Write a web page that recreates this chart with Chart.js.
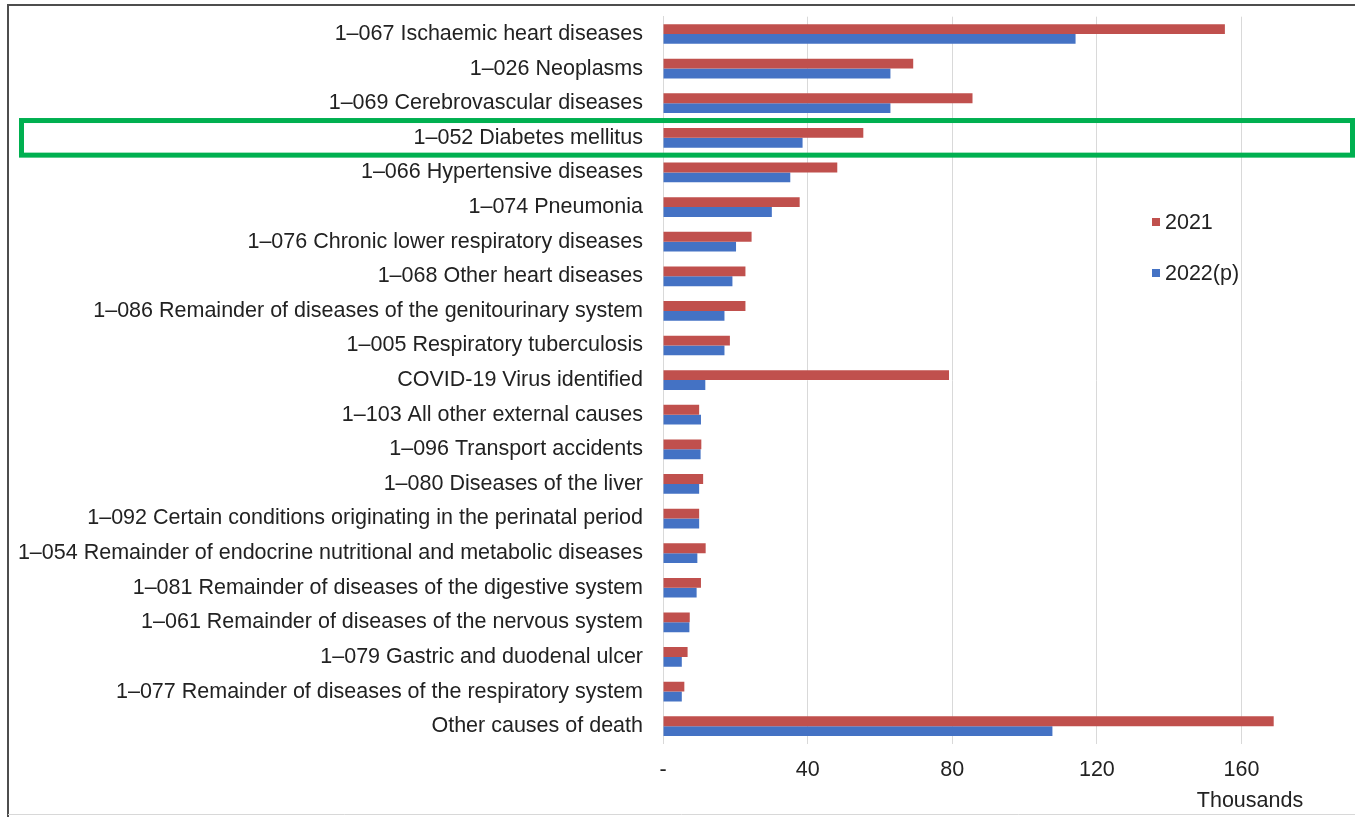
<!DOCTYPE html>
<html>
<head>
<meta charset="utf-8">
<script src="https://cdn.jsdelivr.net/npm/chart.js@4.4.1/dist/chart.umd.min.js"></script>
<style>
  html, body { margin: 0; padding: 0; background: #ffffff; }
  #wrap { width: 1355px; height: 817px; }
</style>
</head>
<body>
<div id="wrap"><canvas id="chart" width="1355" height="817"></canvas></div>
<script>
// Leading causes of death, registered deaths in thousands
const categories = [
  '1\u2013067 Ischaemic heart diseases',
  '1\u2013026 Neoplasms',
  '1\u2013069 Cerebrovascular diseases',
  '1\u2013052 Diabetes mellitus',
  '1\u2013066 Hypertensive diseases',
  '1\u2013074 Pneumonia',
  '1\u2013076 Chronic lower respiratory diseases',
  '1\u2013068 Other heart diseases',
  '1\u2013086 Remainder of diseases of the genitourinary system',
  '1\u2013005 Respiratory tuberculosis',
  'COVID-19 Virus identified',
  '1\u2013103 All other external causes',
  '1\u2013096 Transport accidents',
  '1\u2013080 Diseases of the liver',
  '1\u2013092 Certain conditions originating in the perinatal period',
  '1\u2013054 Remainder of endocrine nutritional and metabolic diseases',
  '1\u2013081 Remainder of diseases of the digestive system',
  '1\u2013061 Remainder of diseases of the nervous system',
  '1\u2013079 Gastric and duodenal ulcer',
  '1\u2013077 Remainder of diseases of the respiratory system',
  'Other causes of death'
];
const seriesNames = ['2021', '2022(p)'];
const deaths2021 = [155.4, 69.2, 85.6, 55.4, 48.2, 37.8, 24.5, 22.8, 22.8, 18.5, 79.1,
                    10.0, 10.6, 11.1, 10.0, 11.8, 10.5, 7.4, 6.8, 5.9, 168.9];
const deaths2022 = [114.1, 62.9, 62.9, 38.6, 35.2, 30.1, 20.2, 19.2, 17.0, 17.0, 11.7,
                    10.5, 10.4, 10.0, 10.0, 9.5, 9.3, 7.3, 5.2, 5.2, 107.7];
const xTickValues = [0, 40, 80, 120, 160];
const xTickLabels = ['-', '40', '80', '120', '160'];
const highlightedIndex = 3;

const FONT = 'Liberation Sans, Arial, sans-serif';
const TEXT = '#222222';
const RED = '#C0504D';
const BLUE = '#4472C4';

// white page with the dark frame on the top and left edges
const framePlugin = {
  id: 'frame',
  beforeDraw(chart) {
    const ctx = chart.ctx;
    ctx.save();
    ctx.fillStyle = '#ffffff';
    ctx.fillRect(0, 0, chart.width, chart.height);
    ctx.strokeStyle = '#4d4d4d';
    ctx.lineWidth = 2;
    ctx.beginPath();
    ctx.moveTo(8, chart.height);
    ctx.lineTo(8, 5);
    ctx.lineTo(chart.width, 5);
    ctx.stroke();
    ctx.strokeStyle = '#d8d8d8';
    ctx.lineWidth = 1;
    ctx.beginPath();
    ctx.moveTo(8, chart.height - 2.5);
    ctx.lineTo(chart.width, chart.height - 2.5);
    ctx.stroke();
    ctx.restore();
  }
};

// vertical legend placed inside the plot, plus the axis unit and the highlight box
const overlayPlugin = {
  id: 'overlay',
  afterDraw(chart) {
    const ctx = chart.ctx;
    ctx.save();
    ctx.font = '21.5px ' + FONT;
    ctx.textBaseline = 'middle';
    ctx.textAlign = 'left';
    const legendY = [222, 273];
    chart.data.datasets.forEach((ds, i) => {
      ctx.fillStyle = ds.backgroundColor;
      ctx.fillRect(1152, legendY[i] - 4, 8, 8);
      ctx.fillStyle = TEXT;
      ctx.fillText(ds.label, 1165, legendY[i] + 1);
    });

    ctx.textAlign = 'center';
    ctx.fillText('Thousands', 1250, 801);

    const y = chart.scales.y;
    const band = (y.bottom - y.top) / categories.length;
    const cy = y.getPixelForValue(highlightedIndex);
    ctx.strokeStyle = '#00B050';
    ctx.lineWidth = 5;
    ctx.strokeRect(21.5, cy - band / 2, 1331, band);
    ctx.restore();
  }
};

new Chart(document.getElementById('chart'), {
  type: 'bar',
  data: {
    labels: categories,
    datasets: [
      { label: seriesNames[0], data: deaths2021, backgroundColor: RED },
      { label: seriesNames[1], data: deaths2022, backgroundColor: BLUE }
    ]
  },
  options: {
    indexAxis: 'y',
    responsive: false,
    devicePixelRatio: 1,
    animation: false,
    layout: { padding: { top: 16.7, right: 5, left: 0, bottom: 0 } },
    datasets: { bar: { categoryPercentage: 0.57, barPercentage: 1.0 } },
    plugins: {
      legend: { display: false },
      tooltip: { enabled: false }
    },
    scales: {
      x: {
        type: 'linear',
        min: 0,
        max: 190,
        afterBuildTicks(scale) {
          scale.ticks = xTickValues.map(v => ({ value: v }));
        },
        afterFit(scale) { scale.height = 73.5; },
        grid: { color: '#d9d9d9', lineWidth: 1, drawTicks: false },
        border: { display: false },
        ticks: {
          padding: 14,
          color: TEXT,
          font: { family: FONT, size: 21.5 },
          callback(value) {
            const i = xTickValues.indexOf(value);
            return i >= 0 ? xTickLabels[i] : '';
          }
        }
      },
      y: {
        afterFit(scale) {
          scale.width = 663;
          scale.paddingTop = 0;
          scale.paddingBottom = 0;
        },
        grid: { display: false, drawTicks: false },
        border: { display: true, color: '#d9d9d9' },
        ticks: {
          padding: 20,
          color: TEXT,
          autoSkip: false,
          font: { family: FONT, size: 21.5 }
        }
      }
    }
  },
  plugins: [framePlugin, overlayPlugin]
});
</script>
</body>
</html>
